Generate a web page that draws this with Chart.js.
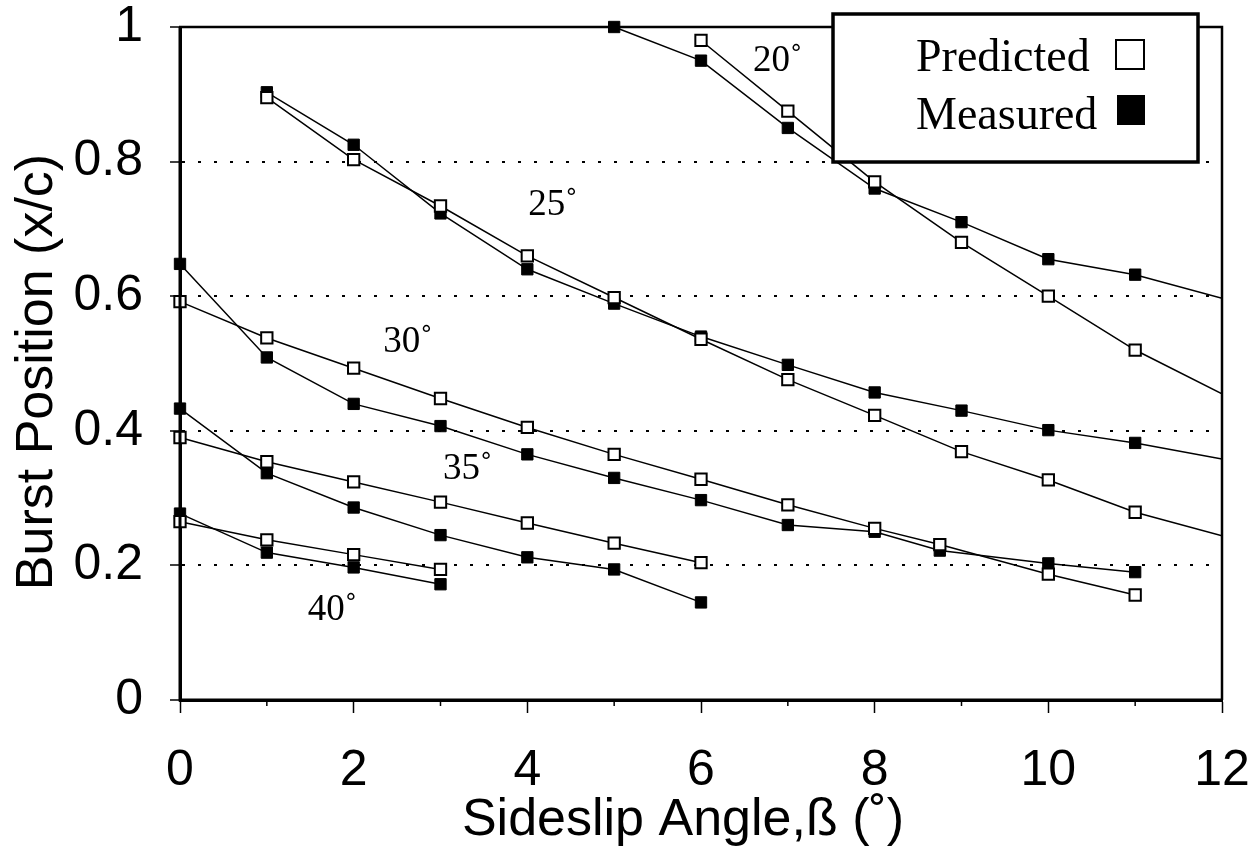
<!DOCTYPE html>
<html>
<head>
<meta charset="utf-8">
<script src="https://cdn.jsdelivr.net/npm/chart.js@4.4.1/dist/chart.umd.min.js"></script>
<style>
  html, body { margin: 0; padding: 0; background: #fff; }
  #wrap { width: 1253px; height: 854px; }
</style>
</head>
<body>
<div id="wrap"><canvas id="c" width="1253" height="854"></canvas></div>
<script>
// ---- Tick labels ----
const xTickLabels = ['0', '', '2', '', '4', '', '6', '', '8', '', '10', '', '12'];
const yTickLabels = ['0', '0.2', '0.4', '0.6', '0.8', '1'];

// ---- Series (sideslip angle beta, burst position x/c) ----
// 20 deg angle of attack
const pred20Beta = [6, 7, 8, 9, 10, 11, 12];
const pred20 = [0.98, 0.875, 0.77, 0.68, 0.60, 0.52, 0.455];
const meas20Beta = [5, 6, 7, 8, 9, 10, 11, 12];
const meas20 = [1.0, 0.95, 0.85, 0.76, 0.71, 0.655, 0.632, 0.597];
// 25 deg
const beta25 = [1, 2, 3, 4, 5, 6, 7, 8, 9, 10, 11, 12];
const pred25 = [0.895, 0.803, 0.734, 0.66, 0.598, 0.536, 0.476, 0.423, 0.369, 0.327, 0.279, 0.244];
const meas25 = [0.903, 0.825, 0.723, 0.64, 0.589, 0.54, 0.498, 0.457, 0.43, 0.401, 0.382, 0.358];
// 30 deg
const beta30 = [0, 1, 2, 3, 4, 5, 6, 7, 8, 8.75, 10, 11];
const pred30 = [0.592, 0.538, 0.493, 0.448, 0.405, 0.365, 0.328, 0.29, 0.255, 0.231, 0.187, 0.156];
const meas30 = [0.648, 0.509, 0.44, 0.407, 0.365, 0.33, 0.297, 0.26, 0.25, 0.222, 0.203, 0.19];
// 35 deg
const beta35 = [0, 1, 2, 3, 4, 5, 6];
const pred35 = [0.39, 0.354, 0.324, 0.294, 0.263, 0.233, 0.204];
const meas35 = [0.433, 0.337, 0.286, 0.245, 0.212, 0.194, 0.145];
// 40 deg
const beta40 = [0, 1, 2, 3];
const pred40 = [0.265, 0.238, 0.216, 0.194];
const meas40 = [0.277, 0.219, 0.197, 0.172];

// Curve labels (angle of attack), in data units
const curveLabels = ['20˚', '25˚', '30˚', '35˚', '40˚'];
const curveLabelBeta = [6.6, 4.01, 2.34, 3.03, 1.47];
const curveLabelPos = [0.934, 0.721, 0.517, 0.329, 0.119];

const legendLabels = ['Predicted', 'Measured'];
const xTitle = 'Sideslip Angle,ß (˚)';
const yTitle = 'Burst Position (x/c)';

function pts(xs, ys) { return xs.map((x, i) => ({ x: x, y: ys[i] })); }

function series(label, xs, ys, filled) {
  return {
    label: label,
    data: pts(xs, ys),
    borderColor: '#000',
    borderWidth: 1.5,
    backgroundColor: filled ? '#000' : '#fff',
    pointStyle: 'rect',
    pointRadius: ctx => (ctx.raw && ctx.raw.x >= 12) ? 0 : 8,
    pointBorderWidth: filled ? 1 : 2,
    pointBorderColor: '#000',
    pointBackgroundColor: filled ? '#000' : '#fff',
    tension: 0,
    fill: false,
    clip: { left: 9, top: 9, right: 0, bottom: 9 }
  };
}

const datasets = [
  series('Predicted 20', pred20Beta, pred20, false),
  series('Measured 20', meas20Beta, meas20, true),
  series('Predicted 25', beta25, pred25, false),
  series('Measured 25', beta25, meas25, true),
  series('Predicted 30', beta30, pred30, false),
  series('Measured 30', beta30, meas30, true),
  series('Predicted 35', beta35, pred35, false),
  series('Measured 35', beta35, meas35, true),
  series('Predicted 40', beta40, pred40, false),
  series('Measured 40', beta40, meas40, true)
];

const decorPlugin = {
  id: 'decor',
  afterDatasetsDraw(chart) {
    const ctx = chart.ctx;
    const xs = chart.scales.x, ys = chart.scales.y;
    const ca = chart.chartArea;
    ctx.save();
    // frame: top and right (thinner), left and bottom axes (thick)
    ctx.strokeStyle = '#000';
    ctx.lineWidth = 2.5;
    ctx.beginPath();
    ctx.moveTo(ca.left - 1, ca.top);
    ctx.lineTo(ca.right, ca.top);
    ctx.lineTo(ca.right, ca.bottom);
    ctx.stroke();
    ctx.lineWidth = 3;
    ctx.beginPath();
    ctx.moveTo(ca.left, ca.top);
    ctx.lineTo(ca.left, ca.bottom);
    ctx.lineTo(ca.right + 1, ca.bottom);
    ctx.stroke();
    // minor x ticks at odd values
    ctx.lineWidth = 1.5;
    for (let v = 1; v < 12; v += 2) {
      const px = xs.getPixelForValue(v);
      ctx.beginPath();
      ctx.moveTo(px, ca.bottom);
      ctx.lineTo(px, ca.bottom + 6);
      ctx.stroke();
    }
    // curve labels
    ctx.fillStyle = '#000';
    ctx.font = '37px "Liberation Serif", "Times New Roman", serif';
    ctx.textAlign = 'left';
    ctx.textBaseline = 'alphabetic';
    curveLabels.forEach((t, i) => {
      ctx.fillText(t, xs.getPixelForValue(curveLabelBeta[i]), ys.getPixelForValue(curveLabelPos[i]));
    });
    // legend box
    const lx = 833, ly = 14, lw = 365, lh = 148;
    ctx.fillStyle = '#fff';
    ctx.fillRect(lx, ly, lw, lh);
    ctx.lineWidth = 3.5;
    ctx.strokeStyle = '#000';
    ctx.strokeRect(lx, ly, lw, lh);
    ctx.fillStyle = '#000';
    ctx.font = '46px "Liberation Serif", "Times New Roman", serif';
    ctx.fillText(legendLabels[0], 916, 71);
    ctx.fillText(legendLabels[1], 916, 129);
    ctx.lineWidth = 2;
    ctx.strokeRect(1116, 40, 28, 29);
    ctx.fillRect(1117, 95, 28, 30);
    // axis titles
    ctx.font = '52px "Liberation Sans", Arial, sans-serif';
    ctx.textAlign = 'center';
    ctx.textBaseline = 'middle';
    ctx.fillText(xTitle, 683, 821);
    ctx.translate(38, 372);
    ctx.rotate(-Math.PI / 2);
    ctx.fillText(yTitle, 0, 0);
    ctx.restore();
  }
};

const tickFont = { family: '"Liberation Sans", Arial, sans-serif', size: 50 };

new Chart(document.getElementById('c'), {
  type: 'line',
  data: { datasets: datasets },
  plugins: [decorPlugin],
  options: {
    responsive: false,
    animation: false,
    events: [],
    layout: { padding: { top: 27, right: 31, left: 0, bottom: 0 } },
    plugins: { legend: { display: false }, tooltip: { enabled: false } },
    scales: {
      x: {
        type: 'linear',
        position: 'bottom',
        min: 0, max: 12,
        ticks: {
          stepSize: 1, autoSkip: false, maxRotation: 0, minRotation: 0,
          padding: 28, color: '#000', font: tickFont,
          callback: (v, i) => xTickLabels[i] !== undefined ? xTickLabels[i] : ''
        },
        grid: {
          drawOnChartArea: false, drawTicks: true, tickLength: 13,
          tickWidth: 1.5,
          tickColor: ctx => (ctx.index % 2 === 0) ? '#000' : 'rgba(0,0,0,0)'
        },
        border: { display: true, color: '#000', width: 3 },
        afterFit: s => { s.height = 154; s.paddingLeft = 0; s.paddingRight = 0; }
      },
      y: {
        type: 'linear',
        position: 'left',
        min: 0, max: 1,
        ticks: {
          stepSize: 0.2, autoSkip: false, padding: 27, color: '#000', font: tickFont,
          callback: (v, i) => yTickLabels[i] !== undefined ? yTickLabels[i] : ''
        },
        grid: {
          drawOnChartArea: true, drawTicks: true, tickLength: 10,
          lineWidth: 2,
          color: ctx => (ctx.index > 0 && ctx.index < 5) ? '#000' : 'rgba(0,0,0,0)',
          tickColor: '#000', tickWidth: 1.5, tickBorderDash: []
        },
        border: { display: true, color: '#000', width: 3, dash: [3, 13] },
        afterFit: s => { s.width = 180; s.paddingTop = 0; s.paddingBottom = 0; }
      }
    }
  }
});
</script>
</body>
</html>
